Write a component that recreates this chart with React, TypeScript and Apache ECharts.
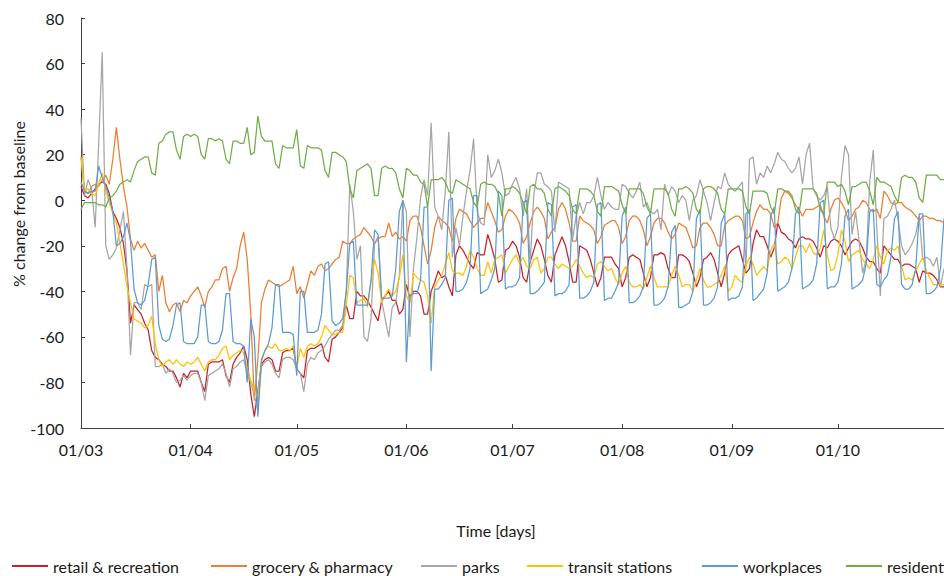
import React, { useEffect, useRef } from "react";
import * as echarts from "echarts";

// ---- data (daily Google mobility values, 1 Mar 2020 .. 31 Oct 2020) ----
const startYear = 2020;
const startMonthIndex = 2; // March
const dayCount = 245;
const monthTickLabels = ["01/03", "01/04", "01/05", "01/06", "01/07", "01/08", "01/09", "01/10"];

const seriesNames = [
  "retail & recreation",
  "grocery & pharmacy",
  "parks",
  "transit stations",
  "workplaces",
  "residential",
];

const retail = [
  6, 2, 1, 3, 5, 7, 8, 7, 3, -5, -8, -12, -19, -31, -54, -46, -48, -50, -54, -57, -66, -69, -70, -72, -73, -75, -75, -78, -82, -76, -78,
  -75, -75, -75, -80, -84, -72, -71, -71, -71, -70, -77, -80, -72, -69, -67, -64, -70, -85, -95, -84, -72, -70, -69, -70, -75, -75, -67, -66, -66, -65,
  -74, -76, -78, -66, -65, -65, -64, -63, -69, -71, -61, -60, -58, -56, -46, -52, -52, -40, -42, -42, -44, -47, -50, -53, -44, -42, -40, -44, -44, -50, -48,
  -37, -43, -40, -40, -42, -50, -50, -40, -36, -31, -34, -33, -38, -42, -24, -20, -22, -25, -28, -30, -23, -24, -24, -15, -20, -26, -36, -35, -22, -21,
  -18, -20, -25, -34, -36, -27, -22, -17, -20, -26, -33, -36, -24, -20, -16, -20, -27, -36, -36, -20, -21, -22, -26, -32, -38, -34, -25, -25, -25, -28, -30,
  -38, -34, -25, -24, -25, -26, -32, -38, -34, -24, -24, -23, -24, -30, -34, -34, -24, -24, -25, -27, -32, -38, -34, -26, -25, -23, -26, -32, -38, -32, -24,
  -22, -21, -20, -26, -32, -30, -19, -13, -16, -16, -20, -25, -21, -10, -14, -15, -17, -18, -21, -17, -16, -17, -17, -18, -21, -25, -20, -21, -18, -17,
  -18, -20, -24, -21, -18, -17, -18, -21, -25, -27, -27, -30, -32, -20, -22, -24, -26, -26, -29, -28, -28, -29, -30, -36, -31, -32, -32, -33, -35, -38, -38,
];

const grocery = [
  19, 4, 3, 6, 7, 6, 9, 11, 7, 18, 32, 18, 6, -3, -17, -22, -18, -21, -19, -22, -25, -24, -40, -33, -45, -49, -46, -45, -49, -44, -45,
  -42, -40, -38, -42, -47, -40, -38, -35, -35, -30, -29, -40, -34, -30, -20, -14, -26, -50, -88, -70, -45, -39, -35, -36, -37, -38, -37, -36, -35, -29,
  -41, -38, -43, -37, -31, -33, -29, -28, -31, -30, -28, -26, -25, -18, -19, -19, -17, -16, -15, -12, -14, -16, -19, -17, -16, -16, -10, -16, -14, -17, -16,
  -18, -9, -7, -7, -12, -20, -28, -22, -12, -7, -9, -10, -12, -18, -8, -4, -5, -6, -9, -12, -10, -8, -8, -1, -5, -9, -14, -13, -7, -4,
  -5, -7, -10, -19, -16, -10, -5, -3, -5, -8, -17, -14, -12, -4, -1, -4, -10, -18, -18, -7, -9, -10, -11, -13, -19, -16, -11, -10, -9, -9, -12,
  -19, -16, -9, -7, -7, -9, -13, -20, -16, -10, -8, -8, -10, -14, -17, -15, -10, -11, -12, -16, -21, -20, -12, -10, -10, -12, -15, -20, -20, -11, -9,
  -8, -7, -7, -9, -17, -16, -10, -5, -2, -4, -4, -6, -12, -10, 1, 4, 3, 1, -2, -4, -7, -4, -4, -4, -3, -2, -7, -10, -4, 0,
  1, -1, -4, -9, -7, -4, -3, 0, -1, -4, -5, -4, -8, 4, 2, -1, -2, -1, -1, -3, -4, -5, -7, -9, -7, -7, -8, -8, -9, -9, -10,
];

const parks = [
  36, 2, 9, 5, -12, 25, 65, -20, -26, -24, -21, -13, -5, -30, -68, -45, -45, -48, -37, -38, -37, -73, -73, -72, -76, -74, -76, -80, -79, -77, -79,
  -77, -76, -76, -80, -88, -77, -76, -75, -74, -72, -76, -82, -74, -73, -71, -70, -76, -80, -86, -92, -73, -71, -70, -72, -76, -78, -70, -69, -69, -70,
  -74, -76, -84, -72, -69, -70, -67, -66, -64, -61, -59, -57, -57, -55, -40, 7, -5, -26, -20, -60, -62, -52, -19, -16, -44, -52, -60, -47, -45, -33, 0,
  -5, -60, -30, -16, 1, 9, 2, 34, -3, -7, -13, 4, 30, -25, -12, -20, -7, 4, 13, 27, -5, -10, -11, 20, 10, 13, 18, 12, 2, 3,
  7, 10, 5, -7, 5, -28, 2, 12, 12, 7, 6, 4, -14, 8, 7, 6, 5, -17, -7, -1, -6, -1, -1, 2, 10, 2, -4, -1, -3, -4, -4,
  7, 6, 3, 1, 4, 8, -3, -1, -5, -6, -4, -13, 7, 2, 6, 4, -1, 2, 0, -9, 0, 2, 9, 4, -1, -9, -1, 6, 5, 12, 7,
  5, 4, 6, 8, -30, 18, 19, 7, 12, 10, 15, 12, 16, 21, 18, 17, 14, 12, 14, 19, 7, 20, 25, 5, 2, 0, 2, 6, -12, -17,
  -12, 10, 24, 20, -15, -5, -18, -32, -26, 8, 22, -12, -42, -8, -7, -4, 0, -8, -20, -24, -22, -19, -15, -7, -26, -25, -26, -29, -25, -38, -30,
];

const transit = [
  19, 4, 5, 3, 2, 7, 12, 4, -1, -6, -10, -19, -28, -38, -45, -52, -53, -54, -56, -55, -51, -63, -70, -73, -71, -70, -72, -70, -72, -73, -71,
  -72, -71, -69, -72, -75, -71, -70, -70, -68, -65, -64, -70, -68, -67, -66, -67, -74, -79, -84, -86, -71, -66, -64, -65, -63, -66, -66, -65, -66, -64,
  -74, -65, -69, -64, -63, -64, -63, -60, -55, -57, -59, -59, -58, -58, -46, -33, -34, -45, -44, -43, -47, -36, -26, -32, -45, -42, -39, -42, -40, -34, -24,
  -42, -45, -32, -34, -35, -36, -42, -54, -38, -35, -33, -28, -23, -31, -32, -32, -33, -29, -22, -25, -30, -33, -33, -27, -32, -26, -25, -24, -32, -29,
  -26, -24, -28, -25, -29, -30, -26, -25, -32, -30, -25, -25, -28, -30, -28, -29, -30, -29, -26, -29, -32, -34, -33, -34, -28, -27, -29, -31, -30, -34, -37,
  -32, -29, -36, -38, -38, -37, -39, -34, -29, -34, -38, -38, -38, -38, -33, -29, -33, -38, -37, -37, -40, -35, -30, -35, -38, -38, -37, -36, -33, -29, -40,
  -38, -33, -35, -36, -29, -25, -28, -33, -31, -29, -31, -22, -19, -28, -27, -25, -26, -30, -25, -20, -20, -23, -19, -23, -24, -21, -13, -24, -31, -30,
  -24, -13, -18, -27, -24, -23, -22, -26, -28, -30, -26, -20, -25, -28, -22, -21, -22, -20, -29, -35, -34, -35, -31, -28, -25, -31, -34, -37, -37, -37, -37,
];

const workplaces = [
  8, 4, 3, 4, 4, 15, 10, 6, 1, -5, -20, -19, -16, -10, -18, -39, -45, -46, -44, -37, -26, -25, -55, -61, -62, -61, -55, -46, -45, -62, -63,
  -63, -63, -60, -46, -46, -62, -63, -63, -62, -57, -41, -41, -62, -63, -63, -64, -80, -52, -60, -95, -70, -66, -63, -56, -37, -37, -58, -58, -58, -59,
  -77, -40, -40, -58, -58, -58, -57, -50, -28, -27, -53, -55, -54, -52, -40, -19, -18, -46, -46, -46, -46, -35, -13, -15, -43, -43, -43, -42, -30, -5, 0,
  -71, -42, -41, -41, -35, -3, -3, -75, -39, -39, -37, -34, 0, 1, -40, -40, -39, -36, -30, 2, 2, -41, -40, -39, -35, -30, 4, 2, -39, -38,
  -38, -37, -34, -1, 0, -41, -41, -40, -38, -36, -1, -2, -42, -41, -41, -40, -37, -3, -2, -43, -43, -42, -40, -36, -2, -1, -44, -43, -43, -40, -36,
  -7, -3, -45, -45, -44, -42, -38, -8, -6, -46, -46, -45, -43, -38, -14, -11, -47, -47, -46, -45, -40, -8, -4, -46, -46, -45, -43, -38, -10, -6, -44,
  -43, -43, -42, -38, -6, -4, -44, -43, -41, -39, -32, -7, -3, -40, -39, -38, -36, -30, -6, -3, -39, -38, -37, -35, -28, -1, 0, -39, -38, -38,
  -36, -28, -7, -4, -39, -38, -37, -35, -28, -5, -4, -37, -38, -35, -33, -25, -8, -5, -37, -39, -39, -37, -30, -6, -6, -41, -41, -40, -38, -30, -8,
];

const residential = [
  -4, -1, -1, -1, -1, -2, -2, -3, 1, 2, 4, 7, 8, 9, 8, 13, 17, 18, 19, 19, 12, 11, 25, 26, 29, 30, 30, 22, 18, 28, 29,
  28, 29, 28, 20, 18, 27, 27, 26, 27, 26, 18, 16, 26, 26, 25, 25, 32, 20, 21, 37, 28, 26, 26, 26, 16, 14, 24, 23, 23, 23,
  31, 15, 14, 24, 23, 23, 23, 22, 13, 10, 21, 21, 20, 19, 17, 5, 1, 13, 14, 15, 16, 14, 2, 2, 14, 15, 14, 14, 12, 5, 1,
  14, 13, 11, 11, 8, 7, -3, 9, 9, 9, 10, 8, 4, 3, 9, 8, 7, 6, 5, -1, -3, 7, 8, 7, 7, 6, 3, -7, 5, 5,
  6, 5, 3, -1, -6, 6, 7, 5, 5, 3, -4, -7, 5, 6, 5, 4, 2, -4, -6, 5, 5, 5, 4, 2, -5, -7, 6, 6, 6, 5, 4,
  -2, -6, 5, 5, 5, 5, 3, -3, -6, 5, 5, 5, 5, 3, -4, -7, 5, 5, 6, 5, 3, -4, -6, 5, 6, 6, 5, 3, -4, -6, 5,
  5, 5, 5, 4, -3, -6, 4, 4, 4, 4, 3, -3, -6, 5, 5, 4, 4, 2, -4, -6, 5, 5, 5, 5, 3, -4, -6, 8, 8, 8,
  6, 7, 4, -2, 6, 6, 7, 8, 8, 4, -2, 10, 8, 8, 7, 6, 2, -1, 10, 11, 10, 10, 8, 1, -1, 11, 11, 11, 11, 9, 9,
];

const seriesData = [retail, grocery, parks, transit, workplaces, residential];
const seriesColors = ["#C8202A", "#ED7D31", "#A5A5A5", "#FFC000", "#5B9BD5", "#70AD47"];

function buildDates(): string[] {
  const out: string[] = [];
  for (let i = 0; i < dayCount; i++) {
    const d = new Date(Date.UTC(startYear, startMonthIndex, 1 + i));
    const dd = String(d.getUTCDate()).padStart(2, "0");
    const mm = String(d.getUTCMonth() + 1).padStart(2, "0");
    out.push(`${dd}/${mm}`);
  }
  return out;
}

const FONT = "Lato, 'Liberation Sans', sans-serif";
const TEXT = "#1a1a1a";

export default function App() {
  const ref = useRef<HTMLDivElement>(null);

  useEffect(() => {
    if (!ref.current) return;
    const chart = echarts.init(ref.current, null, { renderer: "svg" });
    const dates = buildDates();
    const isTick = (i: number) => monthTickLabels.includes(dates[i]);
    const legendLefts = [12, 211, 421, 527, 702, 846];

    chart.setOption({
      animation: false,
      backgroundColor: "#ffffff",
      grid: { left: 81, right: -1, top: 18, bottom: 148, containLabel: false },
      xAxis: {
        type: "category",
        data: dates,
        boundaryGap: false,
        axisLine: { onZero: false, lineStyle: { color: "#404040", width: 1 } },
        axisTick: {
          show: true,
          inside: true,
          length: 4,
          interval: (i: number) => isTick(i),
          lineStyle: { color: "#404040" },
        },
        axisLabel: {
          interval: (i: number) => isTick(i),
          margin: 13,
          color: TEXT,
          fontSize: 16,
          fontFamily: FONT,
        },
        splitLine: { show: false },
      },
      yAxis: {
        type: "value",
        min: -100,
        max: 80,
        interval: 20,
        axisLine: { show: true, lineStyle: { color: "#404040", width: 1 } },
        axisTick: { show: true, inside: true, length: 4, lineStyle: { color: "#404040" } },
        axisLabel: { margin: 17, color: TEXT, fontSize: 16, fontFamily: FONT },
        splitLine: { show: false },
      },
      legend: seriesNames.map((name, i) => ({
        data: [name],
        left: legendLefts[i],
        top: 558,
        padding: 0,
        icon: "rect",
        itemWidth: 36,
        itemHeight: 2,
        itemGap: 0,
        textStyle: { fontSize: 16, fontFamily: FONT, color: TEXT },
      })),
      graphic: [
        {
          type: "text",
          x: 18,
          y: 204,
          rotation: Math.PI / 2,
          style: {
            text: "% change from baseline",
            fontSize: 16,
            fontFamily: FONT,
            fill: TEXT,
            align: "center",
            verticalAlign: "middle",
          },
        },
        {
          type: "text",
          x: 496,
          y: 530,
          style: {
            text: "Time [days]",
            fontSize: 16,
            fontFamily: FONT,
            fill: TEXT,
            align: "center",
            verticalAlign: "middle",
          },
        },
      ],
      series: seriesNames.map((name, i) => ({
        name,
        type: "line",
        data: seriesData[i],
        symbol: "none",
        smooth: false,
        lineStyle: { color: seriesColors[i], width: 1.25 },
        itemStyle: { color: seriesColors[i] },
      })),
    });

    return () => chart.dispose();
  }, []);

  return (
    <div
      ref={ref}
      style={{ position: "absolute", left: 0, top: 0, width: 944, height: 576, background: "#fff" }}
    />
  );
}
